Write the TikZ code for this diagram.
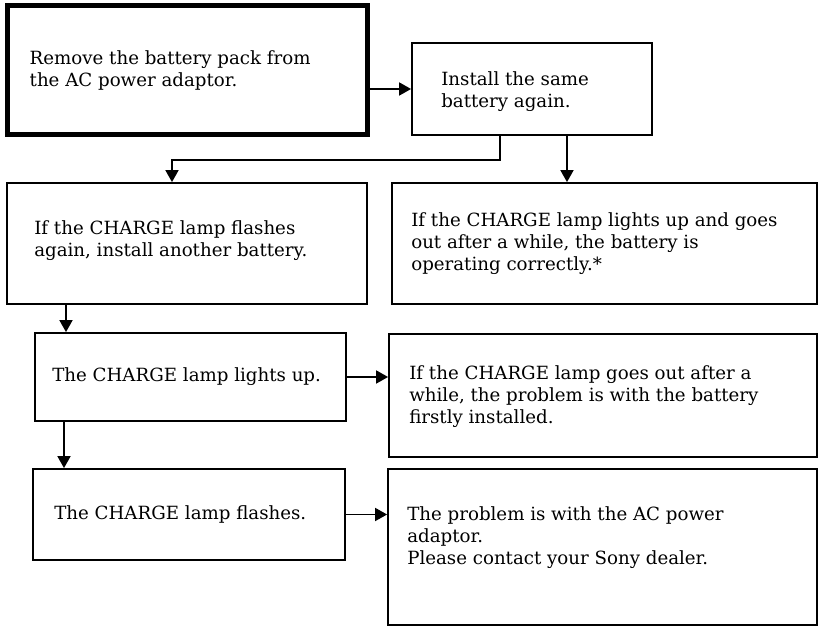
\documentclass[tikz,border=0pt]{standalone}
\usepackage{fontspec}
\setmainfont{DejaVu Serif}
\usetikzlibrary{arrows.meta,positioning}
\tikzset{
  arr/.style={-{Triangle[length=12pt,width=13pt]},line width=1.8pt},
  boxstyle/.style={draw,line width=1.8pt,inner sep=0pt},
  thickbox/.style={boxstyle,line width=5pt},
  txt/.style={inner sep=0pt,align=left,font=\fontsize{18.2}{22}\selectfont}
}
\begin{document}
\begin{tikzpicture}[x=1pt,y=1pt]
  \useasboundingbox (0,0) rectangle (820,627);
  \node[thickbox,minimum width=360pt,minimum height=129pt] (remove) at (187.5,557) {};
  \node[txt,right=24.5pt of remove.west] (removetxt) {Remove the battery pack from\\the AC power adaptor.};
  \node[boxstyle,minimum width=240pt,minimum height=92pt] (install) at (532,538) {};
  \node[txt,right=30pt of install.west,yshift=-3pt] (installtxt) {Install the same\\battery again.};
  \node[boxstyle,minimum width=360pt,minimum height=121pt] (another) at (187,383.5) {};
  \node[txt,right=28pt of another.west,yshift=3pt] (anothertxt) {If the CHARGE lamp flashes\\again, install another battery.};
  \node[boxstyle,minimum width=425pt,minimum height=121pt] (correct) at (604.5,383.5) {};
  \node[txt,right=20pt of correct.west] (correcttxt) {If the CHARGE lamp lights up and goes\\out after a while, the battery is\\operating correctly.*};
  \node[boxstyle,minimum width=311pt,minimum height=88pt] (lightsup) at (190.5,250) {};
  \node[txt,right=18pt of lightsup.west] (lightsuptxt) {The CHARGE lamp lights up.};
  \node[boxstyle,minimum width=428pt,minimum height=123pt] (firstbat) at (603,231.5) {};
  \node[txt,right=21pt of firstbat.west,yshift=-1.5pt] (firstbattxt) {If the CHARGE lamp goes out after a\\while, the problem is with the battery\\firstly installed.};
  \node[boxstyle,minimum width=312pt,minimum height=91pt] (flashes) at (189,112.5) {};
  \node[txt,right=22pt of flashes.west] (flashestxt) {The CHARGE lamp flashes.};
  \node[boxstyle,minimum width=429pt,minimum height=156pt] (adaptor) at (602.5,80) {};
  \node[txt,right=20pt of adaptor.west,yshift=9pt] (adaptortxt) {The problem is with the AC power\\adaptor.\\Please contact your Sony dealer.};
  % connectors
  \draw[arr] (install.west -| remove.east) -- (install.west);
  \draw[arr] ([xshift=-32pt]install.south) -- ++(0,-24) -| ([xshift=-15pt]another.north);
  \draw[arr] ([xshift=35pt]install.south) -- ([xshift=35pt]install.south |- correct.north);
  \draw[arr] ([xshift=-121pt]another.south) -- ([xshift=-121pt]another.south |- lightsup.north);
  \draw[arr] (lightsup.east) -- (lightsup.east -| firstbat.west);
  \draw[arr] ([xshift=-126.5pt]lightsup.south) -- ([xshift=-126.5pt]lightsup.south |- flashes.north);
  \draw[arr] (flashes.east) -- (flashes.east -| adaptor.west);
\end{tikzpicture}
\end{document}
